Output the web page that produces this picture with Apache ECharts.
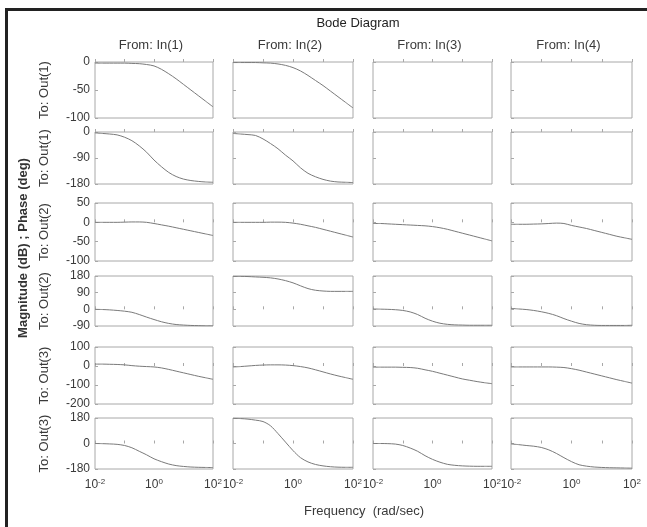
<!DOCTYPE html>
<html>
<head>
<meta charset="utf-8">
<script src="https://cdn.jsdelivr.net/npm/echarts@6/dist/echarts.min.js"></script>
<style>
html,body{margin:0;padding:0;background:#fff;}
#c{width:647px;height:527px;}
</style>
</head>
<body>
<div id="c"></div>
<script>
// ---- data ----
const chartTitle = "Bode Diagram";
const xAxisTitle = "Frequency  (rad/sec)";
const yAxisTitle = "Magnitude (dB) ; Phase (deg)";
const colTitles = ["From: In(1)", "From: In(2)", "From: In(3)", "From: In(4)"];
const rowTitles = ["To: Out(1)", "To: Out(1)", "To: Out(2)", "To: Out(2)", "To: Out(3)", "To: Out(3)"];
const freq = [0.01, 0.0178, 0.0316, 0.0562, 0.1, 0.178, 0.316, 0.562, 1, 1.78, 3.16, 5.62, 10, 17.8, 31.6, 56.2, 100];
const xTickExponents = [-2, 0, 2];
// y axis ranges per row: [min, max, interval]
const rowYMin = [-100, -180, -100, -90, -200, -180];
const rowYMax = [0, 0, 50, 180, 100, 180];
const rowYStep = [50, 90, 50, 90, 100, 180];

// Out(1)
const mag11 = [-2, -2, -2, -2, -2, -2.5, -3, -4.5, -7, -13, -21, -30, -40, -50, -60, -70, -80];
const mag12 = [-1, -1, -1, -1, -1.5, -2, -3.5, -6, -10, -16, -24, -33, -42, -52, -62, -72, -82];
const ph11 = [-3, -5, -7, -10, -18, -30, -48, -70, -97, -120, -140, -154, -163, -168, -171, -173, -174];
const ph12 = [-5, -7, -9, -12, -24, -40, -58, -80, -100, -124, -143, -155, -164, -170, -173, -174, -175];
// Out(2)
const mag21 = [0, 0, 0, 0, 0.5, 1, 1, 0, -3, -6.5, -10, -14, -18, -22, -26, -30, -34];
const mag22 = [0, 0, 0, 0, 0, 0.5, 0.5, 0, -2, -5, -9, -13, -18, -23, -28, -33, -38];
const mag23 = [-3, -3, -4, -5, -6, -7, -8, -9, -11, -14, -18, -23, -28, -33, -38, -43, -48];
const mag24 = [-5, -5, -5, -4.5, -4, -3, -2, -3, -8, -12, -16, -21, -26, -31, -36, -40, -44];
const ph21 = [0, -1, -3, -6, -10, -16, -28, -42, -55, -67, -76, -82, -85, -87, -88, -89, -89];
const ph22 = [178, 178, 177, 175, 173, 170, 164, 155, 143, 127, 112, 103, 99, 97, 97, 97, 97];
const ph23 = [2, 1, 0, -2, -6, -14, -28, -48, -64, -75, -81, -84, -85, -86, -86, -86, -86];
const ph24 = [5, 2, -1, -6, -13, -22, -34, -50, -64, -76, -83, -86, -87, -87, -87, -87, -86];
// Out(3)
const mag31 = [10, 10, 9, 8, 6, 2, -1, -3, -5, -10, -18, -27, -36, -45, -54, -62, -70];
const mag32 = [-5, -3, 0, 3, 5, 6, 6, 5, 2, -3, -10, -20, -31, -42, -52, -61, -70];
const mag33 = [-6, -6, -6, -6, -7, -8, -12, -20, -28, -38, -48, -58, -68, -75, -82, -88, -93];
const mag34 = [-5, -5, -5, -5, -5, -5, -6, -8, -14, -22, -32, -42, -52, -62, -72, -81, -90];
const ph31 = [0, -1, -3, -6, -14, -30, -55, -80, -108, -128, -145, -156, -162, -166, -168, -169, -170];
const ph32 = [178, 176, 172, 165, 155, 125, 70, 10, -50, -100, -130, -148, -158, -164, -167, -168, -168];
const ph33 = [0, 0, -1, -4, -14, -32, -55, -86, -112, -132, -147, -154, -158, -160, -161, -161, -161];
const ph34 = [-3, -8, -14, -19, -28, -45, -70, -100, -128, -150, -160, -166, -169, -171, -172, -173, -174];

const panels = [
  [mag11, mag12, null, null],
  [ph11, ph12, null, null],
  [mag21, mag22, mag23, mag24],
  [ph21, ph22, ph23, ph24],
  [mag31, mag32, mag33, mag34],
  [ph31, ph32, ph33, ph34]
];

// ---- layout ----
const colL = [95, 233, 373, 511];
const colR = [213, 353, 492, 632];
const rowT = [62, 132, 203, 276, 347, 418];
const rowB = [118, 184, 261, 326, 404, 469];
const FONT = "'Liberation Sans', Arial, Helvetica, sans-serif";
const TXT = '#3a3a3a';
const BOX = '#a8a8a8';
const LINE = '#7a7a7a';

const grids = [], xAxes = [], yAxes = [], series = [];
let idx = 0;
for (let r = 0; r < 6; r++) {
  for (let c = 0; c < 4; c++) {
    grids.push({
      left: colL[c], top: rowT[r], width: colR[c] - colL[c], height: rowB[r] - rowT[r],
      show: true, borderColor: BOX, borderWidth: 1, backgroundColor: 'transparent'
    });
    xAxes.push({
      type: 'log', logBase: 10, min: 0.01, max: 100, gridIndex: idx,
      axisLine: { show: false },
      axisTick: { show: true, inside: true, length: 3, lineStyle: { color: BOX } },
      splitLine: { show: false },
      axisLabel: {
        show: r === 5, margin: 9, color: TXT, fontFamily: FONT, fontSize: 12,
        formatter: function (v) {
          const e = Math.round(Math.log10(v));
          if (xTickExponents.indexOf(e) < 0) return '';
          return '10{s|' + e + '}';
        },
        rich: { s: { fontSize: 8, fontFamily: FONT, color: TXT, verticalAlign: 'top', padding: [0, 0, 6, 0] } }
      }
    });
    yAxes.push({
      type: 'value', min: rowYMin[r], max: rowYMax[r], interval: rowYStep[r], gridIndex: idx,
      axisLine: { show: false },
      axisTick: { show: true, inside: true, length: 3, lineStyle: { color: BOX } },
      splitLine: { show: false },
      axisLabel: { show: c === 0, margin: 5, color: TXT, fontFamily: FONT, fontSize: 12 }
    });
    const vals = panels[r][c];
    if (vals) {
      series.push({
        type: 'line', xAxisIndex: idx, yAxisIndex: idx,
        data: freq.map((f, i) => [f, vals[i]]),
        showSymbol: false, smooth: 0.3, silent: true,
        lineStyle: { color: LINE, width: 1 }
      });
    }
    idx++;
  }
}

const graphics = [];
// outer frame (top and left edges)
graphics.push({ type: 'line', shape: { x1: 5, y1: 9.5, x2: 647, y2: 9.5 }, style: { stroke: '#222', lineWidth: 3 } });
graphics.push({ type: 'line', shape: { x1: 6.5, y1: 8, x2: 6.5, y2: 527 }, style: { stroke: '#222', lineWidth: 3 } });
graphics.push({ type: 'text', x: 358, y: 23, style: { text: chartTitle, font: '13px ' + FONT, fill: '#222', align: 'center', verticalAlign: 'middle' } });
for (let c = 0; c < 4; c++) {
  graphics.push({ type: 'text', x: (colL[c] + colR[c]) / 2 - 3, y: 45, style: { text: colTitles[c], font: '13px ' + FONT, fill: TXT, align: 'center', verticalAlign: 'middle' } });
}
for (let r = 0; r < 6; r++) {
  graphics.push({ type: 'text', x: 44, y: (rowT[r] + rowB[r]) / 2, rotation: Math.PI / 2, style: { text: rowTitles[r], font: '13px ' + FONT, fill: TXT, align: 'center', verticalAlign: 'middle' } });
}
graphics.push({ type: 'text', x: 23, y: 248, rotation: Math.PI / 2, style: { text: yAxisTitle, font: 'bold 13px ' + FONT, fill: '#333', align: 'center', verticalAlign: 'middle' } });
graphics.push({ type: 'text', x: 364, y: 511, style: { text: xAxisTitle, font: '13px ' + FONT, fill: TXT, align: 'center', verticalAlign: 'middle' } });

const chart = echarts.init(document.getElementById('c'), null, { renderer: 'canvas' });
chart.setOption({
  animation: false,
  backgroundColor: '#fff',
  grid: grids,
  xAxis: xAxes,
  yAxis: yAxes,
  series: series,
  graphic: graphics
});
</script>
</body>
</html>
